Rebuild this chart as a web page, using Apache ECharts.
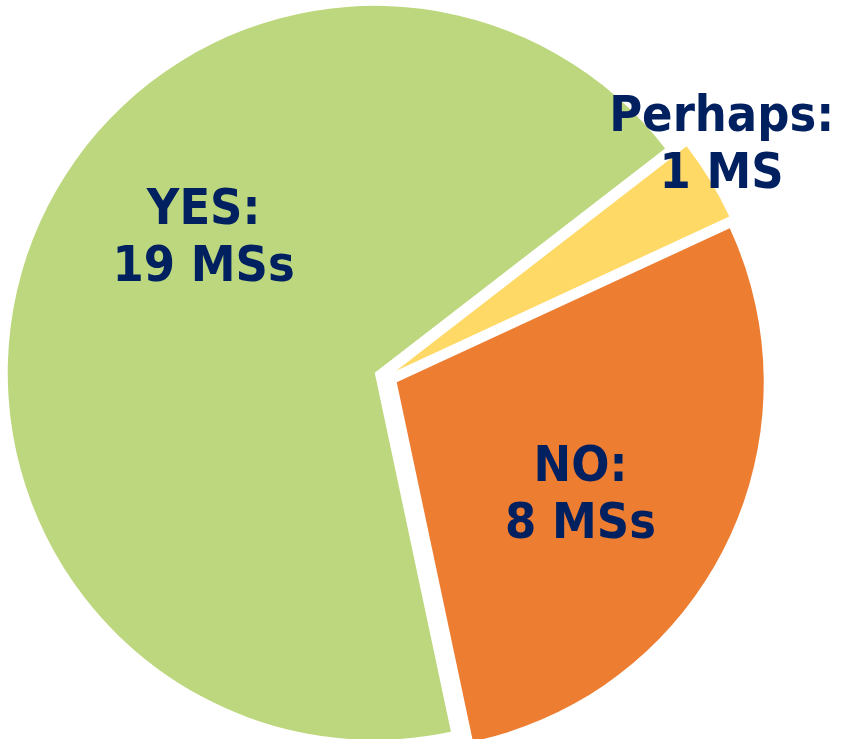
<!DOCTYPE html>
<html>
<head>
<meta charset="utf-8">
<script src="https://cdn.jsdelivr.net/npm/echarts@6/dist/echarts.min.js"></script>
<style>
  html, body { margin: 0; padding: 0; background: #fff; }
  #chart { width: 844px; height: 739px; }
</style>
</head>
<body>
<div id="chart"></div>
<script>
// answers per member state
const categories = ['YES', 'NO', 'Perhaps'];
const counts = [19, 8, 1];
const labelTexts = ['YES:\n19 MSs', 'NO:\n8 MSs', 'Perhaps:\n1 MS'];
const colors = ['#BDD77E', '#ED7D31', '#FFD966'];

// shift of each label from its default spot (Perhaps sits outside the pie)
const labelShift = [[4, -69], [17, 31], [166, -127]];

const chart = echarts.init(document.getElementById('chart'));

chart.setOption({
  animation: false,
  series: [
    {
      type: 'pie',
      center: [386, 377],
      radius: 367,
      startAngle: 37.7,
      clockwise: false,
      selectedMode: 'multiple',
      selectedOffset: 12,
      emphasis: { disabled: true },
      label: {
        show: true,
        position: 'inside',
        formatter: (p) => labelTexts[p.dataIndex],
        color: '#002060',
        fontFamily: "'DejaVu Sans Condensed', 'DejaVu Sans', sans-serif",
        fontWeight: 'bold',
        fontSize: 50,
        lineHeight: 57,
        align: 'center',
        verticalAlign: 'middle',
      },
      labelLine: { show: false },
      labelLayout: function (p) {
        return {
          dx: labelShift[p.dataIndex][0],
          dy: labelShift[p.dataIndex][1],
        };
      },
      data: categories.map((name, i) => ({
        name: name,
        value: counts[i],
        selected: true,
        itemStyle: { color: colors[i] },
        select: { itemStyle: { color: colors[i] } },
      })),
    },
  ],
});
</script>
</body>
</html>
